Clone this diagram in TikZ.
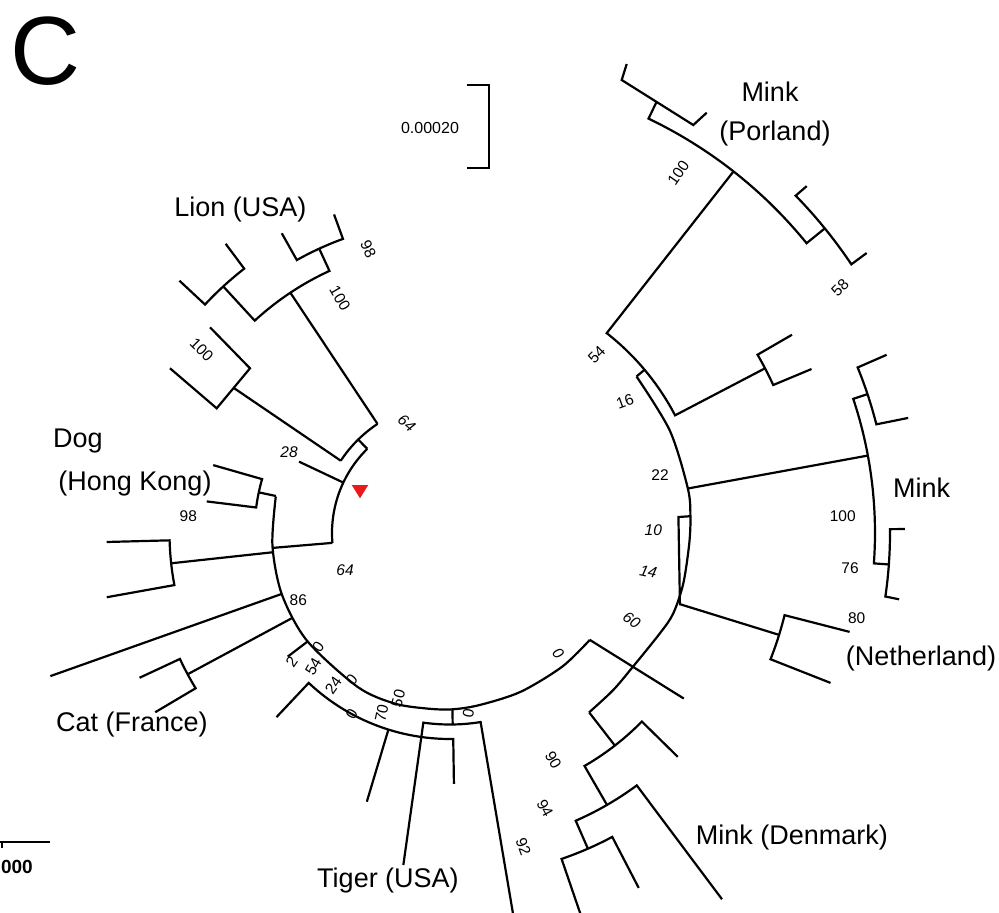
\documentclass[tikz,border=0pt]{standalone}
\usepackage{fontspec}
\setmainfont{Liberation Sans}
\begin{document}
\begin{tikzpicture}[x=1pt,y=-1pt,
  br/.style={line width=2.2pt,line join=miter,miter limit=4},
  num/.style={inner sep=0pt,font=\fontsize{15.5}{17}\selectfont},
  inum/.style={inner sep=0pt,font=\fontsize{15.5}{17}\selectfont\itshape},
  taxon/.style={inner sep=0pt,font=\fontsize{27}{30}\selectfont}]
\useasboundingbox (0,0) rectangle (999,913);

% ---------- tree, polar coordinates about the centre of the circle ----------
\begin{scope}[shift={(450,533)},variable=\t,samples=30]
  % backbone arc (left and bottom)
  \draw[br] plot[smooth] coordinates {(191.8:178) (176:178) (160:179) (143:179)
     (121:179.5) (108:179.3) (97:177) (89:176.3) (80:174.5) (66:173.8) (50:174.5) (37.4:176)};

  % dog clade
  \draw[br] (192:178) -- (192:195.5);
  \draw[br] (196:246.3) -- (196:195.5) -- plot[domain=196:187.5] (\t:195.5) -- (187.4:245.3);

  % inner arc with the lion group
  \draw[br] (175.2:178) -- (175.2:118);
  \draw[br] plot[domain=175.2:225.5] (\t:118);
  \draw[br] (205.3:118) -- (205.3:167);
  \draw[br] (225.5:118) -- (225.5:131);
  \draw[br] plot[domain=213.5:236.4] (\t:131);
  \coordinate (n64a) at (213.5:131);
  \draw[br] (236.4:131) -- (236.4:288.5);
  \draw[br] (227.4:335) -- (227.4:288.5) -- plot[domain=227.4:245.3] (\t:288.5) -- (245.3:313);
  \draw[br] (240.7:343.7) -- (240.7:313) -- plot[domain=240.7:250] (\t:313) -- (250:339);
  \draw[br] (223:370) -- (223:335) -- plot[domain=223:232.1] (\t:335) -- (232.2:366);

  % left cherry
  \draw[br] (173.8:178) -- (173.8:280.5);
  \draw[br] (178.5:343.4) -- (178.5:280.5) -- plot[domain=178.5:169.3] (\t:280.5) -- (169.4:349.2);

  % long leaf and cat clade
  \draw[br] (160.1:178.7) -- (160.3:424.5);
  \draw[br] (151.7:179) -- (151.7:298);
  \draw[br] (155:342.5) -- (155:298) -- plot[domain=155:148.6] (\t:298) -- (148.7:345);
  \draw[br] (142.7:179) -- (142.7:204);

  % tiger clade
  \draw[br] (133.3:253) -- (133.3:206) -- plot[domain=133.3:89.1] (\t:206) -- (89.1:251);
  \draw[br] (107.4:206) -- (107.2:281.3);
  \draw[br] (89.2:176.3) -- (89.2:191.5);
  \draw[br] (98:335.3) -- (98:191.5) -- plot[domain=98:80.8] (\t:191.5) -- (80.6:386);

  % link to the right-hand arc
  \draw[br] (37.4:176) -- (35.3:286.5);

  % right-hand arc
  \draw[br] plot[smooth] coordinates {(-40:243.5) (-25:242.5) (-10.6:242) (-4:241) (2.5:239.5)
     (12.2:238.7) (19.8:237.3) (25.5:232.7) (36.7:226.5) (44:226.5) (52.2:227)};

  % Poland group
  \draw[br] (-51.9:459.5) -- (-51.9:254) -- plot[domain=-51.9:-27.6] (\t:254) -- (-27.6:355.5);
  \draw[br] (-40:254) -- (-40:243.5);
  \draw[br] (-30.1:395.3) -- (-30.1:355.5) -- plot[domain=-30.1:-24.6] (\t:355.5) -- (-24.4:397);
  \draw[br] (-64.4:478) -- (-64.4:459.5) -- plot[domain=-64.4:-39.1] (\t:459.5) -- (-39.1:483);
  \draw[br] (-44.2:497.6) -- (-44.3:483) -- plot[domain=-44.3:-33.8] (\t:483) -- (-33.9:502);

  % Netherlands mink group
  \draw[br] (-10.6:242) -- (-10.5:425);
  \draw[br] (-18.4:440) -- (-18.4:425) -- plot[domain=-18.4:4.1] (\t:425) -- (4.1:440);
  \draw[br] (-22.2:471.6) -- (-22.1:440) -- plot[domain=-22.1:-14.3] (\t:440) -- (-14.1:472.4);
  \draw[br] (-0.5:455) -- (-0.5:440) -- plot[domain=-0.5:8.3] (\t:440) -- (8.4:454);
  \draw[br] (-4:241) -- (-4:229) -- (17.2:240.7) -- (17.2:344.5);
  \draw[br] (13.9:411.7) -- (13.8:344.5) -- plot[domain=13.8:21.5] (\t:344.5) -- (21.5:409);

  % Denmark mink group
  \draw[br] (52.2:227) -- (52.2:269);
  \draw[br] (44.5:319.3) -- (44.5:269) -- plot[domain=44.5:60] (\t:269) -- (60:314);
  \draw[br] (53.4:456.2) -- (53.5:314) -- plot[domain=53.5:66.4] (\t:314) -- (66.4:344.5);
  \draw[br] (62:402) -- (61.9:344.5) -- plot[domain=61.9:71.1] (\t:344.5) -- (71.1:405);
\end{scope}

% second lion-side cherry and top Poland cherry
\draw[br] (n64a) -- (233.7,387.9);
\draw[br] (210,327.3) -- (250,368.3) -- (216.7,408.3) -- (170,368.3);
\draw[br] (626.7,64) -- (621.7,80) -- (693.3,125) -- (706.7,112.7);

% marker
\fill[fill={rgb,255:red,235;green,25;blue,30}] (351.7,485) -- (368.3,485) -- (360,498.3) -- cycle;

% scale bars
\draw[br,line width=2pt] (466.7,85) -- (489,85) -- (489,168.3) -- (466.7,168.3);
\node[inner sep=0pt,font=\fontsize{16}{18}\selectfont] (sclab) at (430,128.3) {0.00020};
\draw[line width=2pt] (0,842) -- (50,842);
\draw[line width=2pt] (1.5,842) -- (1.5,848);
\node[inner sep=0pt,anchor=east,font=\fontsize{19}{21}\selectfont\bfseries] (sclab2) at (33,866.5) {000};

% panel letter
\node[inner sep=0pt,anchor=base west,font=\fontsize{97}{100}\selectfont] (panel) at (10,84) {C};

% taxon labels
\node[taxon] (tLion) at (240.5,210) {Lion (USA)};
\node[taxon,anchor=base west] (tDog) at (53,447) {Dog};
\node[taxon] (tHK) at (135,483.4) {(Hong Kong)};
\node[taxon] (tCat) at (132,725) {Cat (France)};
\node[taxon] (tTiger) at (388,881) {Tiger (USA)};
\node[taxon] (tDen) at (792,837.5) {Mink (Denmark)};
\node[taxon] (tMinkN) at (921.7,488) {Mink};
\node[taxon] (tNL) at (921,659) {(Netherland)};
\node[taxon] (tMinkP) at (770,92) {Mink};
\node[taxon] (tPL) at (775,133.3) {(Porland)};

% support values
\node[num,rotate=-65] (s1) at (368.3,249.3) {98};
\node[num,rotate=-60] (s2) at (340,298.3) {100};
\node[num,rotate=-45] (s3) at (201.7,350) {100};
\node[inum,rotate=-40] (s4) at (406.7,423.3) {64};
\node[inum] (s5) at (289,452) {28};
\node[num] (s6) at (188.3,516) {98};
\node[inum] (s7) at (345,570) {64};
\node[num] (s8) at (298.3,600) {86};
\node[num,rotate=55] (s9) at (318.3,646.7) {0};
\node[num,rotate=55] (s10) at (291.7,661.7) {2};
\node[num,rotate=60] (s11) at (313.3,666.7) {54};
\node[num,rotate=55] (s12) at (333.3,685) {24};
\node[num,rotate=50] (s13) at (351.7,679.3) {0};
\node[num,rotate=75] (s14) at (398.3,698.3) {50};
\node[num,rotate=78] (s15) at (381.7,713.3) {70};
\node[num,rotate=60] (s16) at (351.7,714) {0};
\node[num,rotate=80] (s17) at (468.3,713.3) {0};
\node[num,rotate=-70] (s18) at (523.3,846.7) {92};
\node[num,rotate=-62] (s19) at (545,808.3) {94};
\node[num,rotate=-60] (s20) at (553.3,760) {90};
\node[inum,rotate=-50] (s21) at (558.3,653.3) {0};
\node[inum,rotate=-35] (s22) at (631.7,620) {60};
\node[inum,rotate=-12] (s23) at (648.3,571.7) {14};
\node[inum] (s24) at (653.3,530) {10};
\node[num] (s25) at (660,475) {22};
\node[num,rotate=20] (s26) at (625,401.7) {16};
\node[num,rotate=45] (s27) at (596.7,355) {54};
\node[num,rotate=55] (s28) at (678.3,173.3) {100};
\node[num,rotate=45] (s29) at (840,287.3) {58};
\node[num] (s30) at (842.7,516) {100};
\node[num] (s31) at (850,568.3) {76};
\node[num] (s32) at (856.7,618.3) {80};
\end{tikzpicture}
\end{document}
